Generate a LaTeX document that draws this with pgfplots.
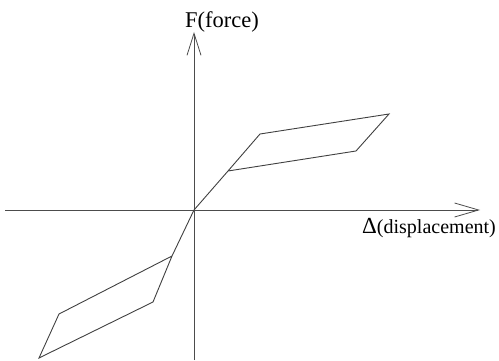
\documentclass[border=0pt]{standalone}
\usepackage{pgfplots}
\pgfplotsset{compat=1.18}
\usepackage{fontspec}
\setmainfont{Liberation Serif}
\usetikzlibrary{arrows.meta}
\begin{document}
\begin{tikzpicture}
\begin{axis}[
  scale only axis, width=499bp, height=360bp,
  xmin=-194, xmax=305, ymin=-150, ymax=210,
  axis lines=none, clip=false,
]
\path (axis cs:-194,-150) rectangle (axis cs:305,210);
% coordinate axes
\draw[gray!60!black, line width=0.9bp, -{Straight Barb[length=24bp,width=14bp,line width=0.8bp]}] (axis cs:-189,0) -- (axis cs:286,0);
\draw[gray!60!black, line width=0.9bp, -{Straight Barb[length=22bp,width=14bp,line width=0.8bp]}] (axis cs:0,-150) -- (axis cs:0,178);
% hysteresis curve, upper
\addplot[black!75, line width=0.9bp] coordinates {(0,0) (34,39) (66,76) (195,96) (162,59) (34,39)};
% hysteresis curve, lower
\addplot[black!75, line width=0.9bp] coordinates {(0,0) (-22,-46) (-41,-92) (-155,-148) (-135,-104) (-22,-46)};
\node[anchor=base west, inner sep=0pt, font=\fontsize{22.5bp}{26bp}\selectfont] at (axis cs:-9,183) {F(force)};
\node[anchor=base west, inner sep=0pt, font=\fontsize{20bp}{24bp}\selectfont] at (axis cs:168,-23) {{\fontsize{23bp}{26bp}\selectfont Δ}(displacement)};
\end{axis}
\end{tikzpicture}
\end{document}
